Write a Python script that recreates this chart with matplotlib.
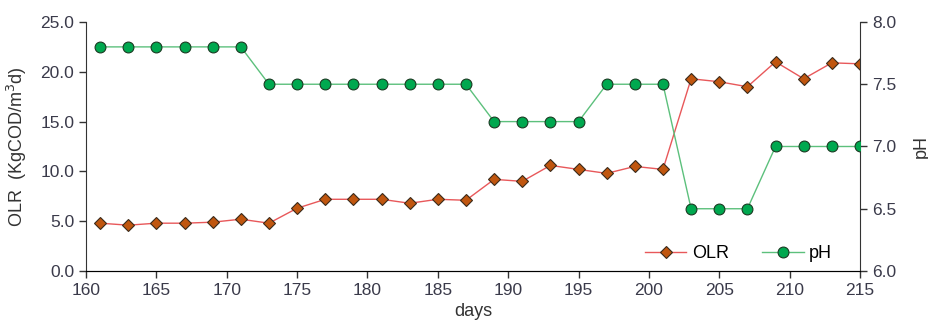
import numpy as np
import matplotlib
matplotlib.use("Agg")
import matplotlib.pyplot as plt

plt.rcParams['font.family'] = ['Liberation Sans', 'DejaVu Sans']

# sampling days
days = list(range(161, 216, 2))
# organic loading rate (KgCOD/m3d)
olr = [4.8, 4.6, 4.8, 4.8, 4.9, 5.2, 4.8, 6.3, 7.2, 7.2, 7.2, 6.8, 7.2, 7.1,
       9.2, 9.0, 10.6, 10.2, 9.8, 10.5, 10.2, 19.3, 19.0, 18.5, 21.0, 19.3, 20.9, 20.8]
# pH
ph = [7.8, 7.8, 7.8, 7.8, 7.8, 7.8, 7.5, 7.5, 7.5, 7.5, 7.5, 7.5, 7.5, 7.5,
      7.2, 7.2, 7.2, 7.2, 7.5, 7.5, 7.5, 6.5, 6.5, 6.5, 7.0, 7.0, 7.0, 7.0]

xticks = [160, 165, 170, 175, 180, 185, 190, 195, 200, 205, 210, 215]

fig = plt.figure(figsize=(9.29, 3.22), dpi=100)
ax = fig.add_axes([0.0926, 0.1584, 0.8331, 0.7733])
ax2 = ax.twinx()

l1, = ax.plot(days, olr, color='#e8585a', lw=1.0, marker='D', ms=5.8,
              mfc='#c0560f', mec='#3a2a1a', mew=0.8, label='OLR', zorder=3)
l2, = ax2.plot(days, ph, color='#5cc07c', lw=1.0, marker='o', ms=7.8,
               mfc='#00a84f', mec='#1a3a22', mew=0.8, label='pH', zorder=3)

ax.set_xlim(160, 215)
ax.set_ylim(0, 25)
ax2.set_ylim(6.0, 8.0)
ax.set_xticks(xticks)
ax.set_yticks(np.arange(0, 25.1, 5))
ax.set_yticklabels([f"{v:.1f}" for v in np.arange(0, 25.1, 5)])
ax2.set_yticks([6.0, 6.5, 7.0, 7.5, 8.0])
ax2.set_yticklabels(["6.0", "6.5", "7.0", "7.5", "8.0"])

for a in (ax, ax2):
    a.spines['top'].set_visible(False)
    a.tick_params(direction='out', length=5, width=1, labelsize=12.5,
                  colors='#333333', labelcolor='#3a3a4a')
ax2.spines['left'].set_visible(False)
ax.spines['right'].set_visible(False)
for s in ('left', 'bottom'):
    ax.spines[s].set_color('#333333')
ax2.spines['right'].set_color('#333333')

ax.set_xlabel('days', fontsize=13, color='#333333', labelpad=4)
ax.set_ylabel('OLR  (KgCOD/m$^3$d)', fontsize=13, color='#333333', labelpad=8)
ax2.set_ylabel('pH', fontsize=13, color='#333333', labelpad=12)

ax2.legend([l1, l2], ['OLR', 'pH'], loc='lower right', ncol=2, frameon=False,
           fontsize=13, bbox_to_anchor=(0.985, -0.03), handlelength=2.3,
           columnspacing=1.85, handletextpad=0.3)

fig.savefig('out.png', dpi=100)
